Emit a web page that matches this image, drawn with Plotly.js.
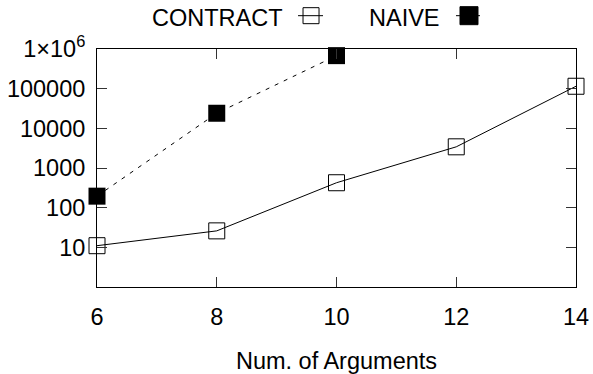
<!DOCTYPE html>
<html>
<head>
<meta charset="utf-8">
<script src="https://cdn.plot.ly/plotly-3.0.1.min.js"></script>
<style>html,body{margin:0;padding:0;background:#fff;}#chart{width:593px;height:374px;}</style>
</head>
<body>
<div id="chart"></div>
<script>
const argsX = [6, 8, 10, 12, 14];
const contractY = [11, 26, 425, 3420, 115000];
const naiveX = [6, 8, 10];
const naiveY = [195, 24000, 680000];
const yTickVals = [10, 100, 1000, 10000, 100000, 1000000];
const yTickText = ["10", "100", "1000", "10000", "100000", "1×10<sup>6</sup>"];
const xTickVals = [6, 8, 10, 12, 14];
const seriesNames = ["CONTRACT", "NAIVE"];

const FONT = "Liberation Sans, Arial, sans-serif";
const FS = 23.5;

const traces = [
  {
    x: argsX, y: contractY, name: seriesNames[0], type: "scatter", mode: "lines+markers",
    line: {color: "#000", width: 1},
    marker: {symbol: "square-open", size: 16, color: "#000", line: {width: 1, color: "#000"}},
    cliponaxis: false
  },
  {
    x: naiveX, y: naiveY, name: seriesNames[1], type: "scatter", mode: "lines+markers",
    line: {color: "#000", width: 1, dash: "4px,6px"},
    marker: {symbol: "square", size: 17, color: "#000"},
    cliponaxis: false
  }
];

const legY = 1.13;
const legSymY = 1.14;
const shapes = [
  {type: "line", xref: "paper", yref: "paper", xsizemode: "pixel", ysizemode: "pixel",
   xanchor: 0.4468, yanchor: legSymY, x0: -13, x1: 12, y0: 0, y1: 0, line: {color: "#000", width: 1}},
  {type: "rect", xref: "paper", yref: "paper", xsizemode: "pixel", ysizemode: "pixel",
   xanchor: 0.4468, yanchor: legSymY, x0: -8, x1: 8, y0: -8, y1: 8, line: {color: "#000", width: 1}, fillcolor: "rgba(0,0,0,0)"},
  {type: "line", xref: "paper", yref: "paper", xsizemode: "pixel", ysizemode: "pixel",
   xanchor: 0.7766, yanchor: legSymY, x0: -13, x1: 13, y0: 0, y1: 0, line: {color: "#000", width: 1, dash: "4px,6px"}},
  {type: "rect", xref: "paper", yref: "paper", xsizemode: "pixel", ysizemode: "pixel",
   xanchor: 0.7766, yanchor: legSymY, x0: -9, x1: 9, y0: -9, y1: 9, line: {color: "#000", width: 1}, fillcolor: "#000"}
];

const annotations = [
  {text: seriesNames[0], xref: "paper", yref: "paper", x: 0.3925, y: legY, xanchor: "right", yanchor: "middle",
   showarrow: false, font: {family: FONT, size: FS, color: "#000"}},
  {text: seriesNames[1], xref: "paper", yref: "paper", x: 0.7203, y: legY, xanchor: "right", yanchor: "middle",
   showarrow: false, font: {family: FONT, size: FS, color: "#000"}}
];

const layout = {
  width: 593, height: 374,
  margin: {l: 97, r: 17, t: 49, b: 87, pad: 0},
  paper_bgcolor: "#fff", plot_bgcolor: "#fff",
  font: {family: FONT, size: FS, color: "#000"},
  showlegend: false,
  xaxis: {
    range: [6, 14], tickvals: xTickVals, ticktext: xTickVals.map(String),
    ticks: "inside", ticklen: 10, tickwidth: 1, tickcolor: "#333",
    mirror: "allticks", showline: true, linecolor: "#000", linewidth: 1,
    showgrid: false, zeroline: false, ticklabelstandoff: 9,
    title: {text: "Num. of Arguments", font: {family: FONT, size: FS}, standoff: 25},
    automargin: false
  },
  yaxis: {
    type: "log", range: [0, 6], tickvals: yTickVals, ticktext: yTickText,
    ticks: "inside", ticklen: 10, tickwidth: 1, tickcolor: "#333",
    mirror: "allticks", showline: true, linecolor: "#000", linewidth: 1,
    showgrid: false, zeroline: false, ticklabelstandoff: 6,
    automargin: false
  },
  shapes: shapes,
  annotations: annotations
};

Plotly.newPlot("chart", traces, layout, {displayModeBar: false, staticPlot: true});
</script>
</body>
</html>
